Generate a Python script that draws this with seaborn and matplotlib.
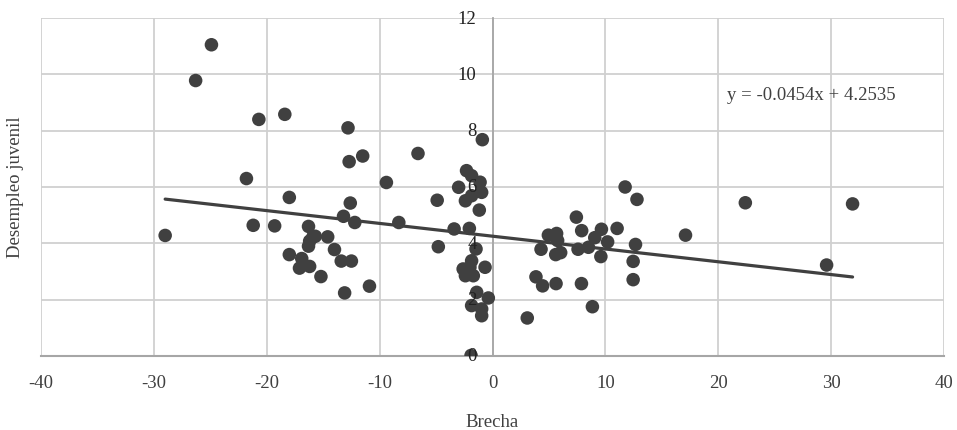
import matplotlib
matplotlib.use('Agg')
import numpy as np
import pandas as pd
import matplotlib.pyplot as plt
import matplotlib.transforms as mtransforms
import seaborn as sns

# Brecha (x) and Desempleo juvenil (y)
brecha = [-24.9, -26.3, -20.7, -18.4, -12.8, -12.7, -11.5, -21.8, -18.0, -9.4,
          -6.6, -0.9, -29.0, -21.2, -19.3, -18.0, -16.3, -16.3, -15.9, -15.7,
          -14.6, -16.2, -16.9, -17.1, -16.2, -15.2, -14.0, -13.4, -12.5, -13.1,
          -10.9, -13.2, -12.6, -12.2, -8.3, -4.9, -4.8,
          -2.3, -1.85, -3.0, -1.1, -0.96, -2.4, -1.85, -1.17, -3.4, -2.05,
          -1.46, -1.85, -2.6, -2.0, -1.7, -2.4, -0.66, -1.4, -0.37, -1.85,
          -0.96, -0.96, -1.9,
          3.08, 4.3, 11.75, 12.8, 7.43, 4.95, 5.68, 5.77, 7.9, 9.65,
          9.06, 11.04, 10.2, 17.1, 5.6, 6.04, 7.58, 8.5, 9.6, 12.67,
          12.46, 3.85, 4.44, 5.63, 7.88, 12.46, 8.85, 22.4, 31.9, 29.6]
desempleo = [11.05, 9.78, 8.4, 8.58, 8.1, 6.9, 7.1, 6.3, 5.63, 6.16,
             7.19, 7.68, 4.28, 4.64, 4.62, 3.6, 4.6, 3.9, 4.24, 4.25,
             4.23, 4.08, 3.46, 3.12, 3.18, 2.82, 3.78, 3.37, 3.37, 2.24,
             2.48, 4.96, 5.43, 4.74, 4.74, 5.53, 3.88,
             6.58, 6.4, 5.99, 6.17, 5.81, 5.51, 5.69, 5.18, 4.51, 4.53,
             3.8, 3.38, 3.09, 3.15, 2.85, 2.85, 3.15, 2.26, 2.06, 1.79,
             1.67, 1.43, 0.02,
             1.35, 3.79, 6.0, 5.56, 4.93, 4.29, 4.35, 4.1, 4.45, 4.5,
             4.2, 4.53, 4.05, 4.29, 3.6, 3.67, 3.79, 3.86, 3.53, 3.96,
             3.36, 2.81, 2.49, 2.57, 2.57, 2.71, 1.75, 5.44, 5.4, 3.23]

# linear trend shown on the chart
slope = -0.0454
intercept = 4.2535

xticks = list(range(-40, 41, 10))
yticks = list(range(0, 13, 2))

df = pd.DataFrame({'Brecha': brecha, 'Desempleo juvenil': desempleo})
trend_x = np.array([df['Brecha'].min(), df['Brecha'].max()])
trend = pd.DataFrame({'x': trend_x, 'y': slope * trend_x + intercept})

sns.set_style('white')
plt.rcParams['font.family'] = ['Liberation Serif', 'DejaVu Serif']
plt.rcParams['axes.unicode_minus'] = False
text_color = '#404040'
dot_color = '#404040'

fig = plt.figure(figsize=(9.57, 4.31), dpi=100)
ax = fig.add_axes([41 / 957, 74 / 431, 903 / 957, 338 / 431])

sns.scatterplot(data=df, x='Brecha', y='Desempleo juvenil', ax=ax,
                color=dot_color, s=95, edgecolor='none', zorder=3)
sns.lineplot(data=trend, x='x', y='y', ax=ax, color=dot_color,
             linewidth=2.3, zorder=4)

ax.set_xlim(-40, 40)
ax.set_ylim(0, 12)
ax.set_xticks(xticks)
ax.set_yticks(yticks)
ax.set_yticklabels([])
ax.grid(True, color='#d0d0d0', linewidth=1.3)
ax.set_axisbelow(True)

# vertical axis crosses at x = 0, as in the original
ax.spines['left'].set_position(('data', 0))
ax.spines['left'].set_color('#a6a6a6')
ax.spines['left'].set_linewidth(1.3)
ax.spines['bottom'].set_color('#a6a6a6')
ax.spines['bottom'].set_linewidth(1.5)
ax.spines['right'].set_visible(False)
ax.spines['top'].set_visible(False)

ax.tick_params(axis='both', length=0, labelsize=13.5, colors=text_color)
ax.tick_params(axis='x', pad=13)

# y tick labels sit just left of the x = 0 axis, on top of the dots
label_shift = mtransforms.offset_copy(ax.transData, fig=fig, x=-16, y=0, units='dots')
for t in yticks:
    ax.text(0, t, str(t), transform=label_shift, fontsize=13.5,
            color='#222222', ha='right', va='center', zorder=6)

ax.set_xlabel('Brecha', fontsize=13.5, color=text_color, labelpad=16)
ax.set_ylabel('')
fig.text(16 / 957, 1 - 187 / 431, 'Desempleo juvenil', rotation=90,
         fontsize=13.5, color=text_color, ha='center', va='center')

ax.text(20.8, 9.3, f'y = {slope}x + {intercept}', fontsize=13.5,
        color=text_color, ha='left', va='center')

fig.savefig('out.png', dpi=100)
